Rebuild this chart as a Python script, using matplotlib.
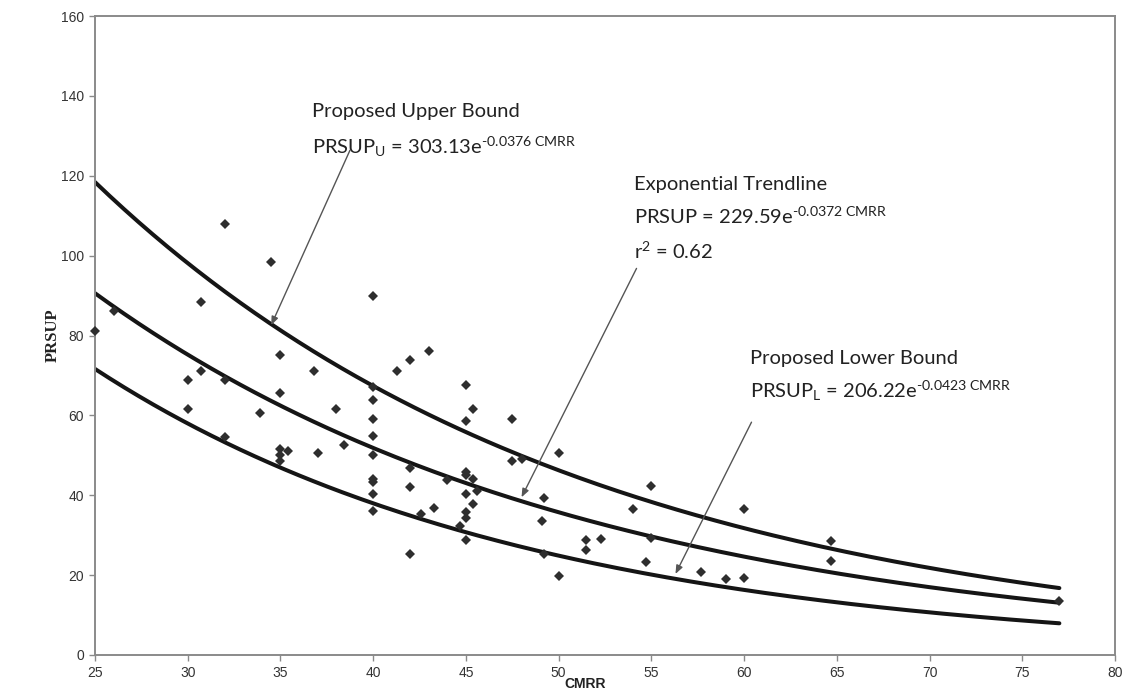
import numpy as np
import matplotlib
matplotlib.use('Agg')
import matplotlib.pyplot as plt

plt.rcParams['mathtext.fontset'] = 'custom'
plt.rcParams['mathtext.rm'] = 'Lato'
plt.rcParams['mathtext.it'] = 'Lato:italic'
plt.rcParams['mathtext.bf'] = 'Lato:bold'

# measured points (CMRR, PRSUP)
cmrr = [25, 26, 30, 30, 30.7, 30.7, 32, 32, 32, 33.9, 34.5, 35, 35, 35, 35.4, 35, 35,
        36.8, 37, 38, 38.4, 40, 40, 40, 40, 40, 40, 40, 40, 40, 40, 41.3, 42, 42, 42,
        42, 42.6, 43, 43.3, 44, 44.7, 45, 45, 45.4, 45, 45, 45.4, 45.6, 45, 45.4, 45,
        45, 45, 47.5, 47.5, 48, 49.2, 49.1, 49.2, 50, 50, 51.5, 51.5, 52.3, 54, 54.7,
        55, 55, 57.7, 59, 60, 60, 64.7, 64.7, 77]
prsup = [81.1, 86.1, 68.8, 61.5, 71, 88.5, 107.9, 68.8, 54.6, 60.5, 98.4, 75, 65.7, 51.7,
         51, 50.2, 48.5, 71, 50.5, 61.5, 52.6, 90, 67, 63.8, 59.1, 54.9, 50.2, 44, 43.3,
         40.4, 36, 71, 73.9, 46.9, 42, 25.2, 35.2, 76, 36.7, 43.9, 32.3, 67.5, 58.6, 61.6,
         45.9, 45.1, 44, 41.1, 40.2, 37.8, 35.8, 34.4, 28.7, 59.1, 48.6, 49.1, 39.4, 33.5,
         25.2, 50.5, 19.7, 28.9, 26.2, 29.1, 36.5, 23.4, 42.3, 29.4, 20.7, 19, 36.5, 19.2,
         28.6, 23.6, 13.6]

# curve equations printed on the chart: PRSUP = a * exp(b * CMRR)
curve_a = [303.13, 229.59, 206.22]
curve_b = [-0.0376, -0.0372, -0.0423]
curve_range = [25, 77]

xticks = list(range(25, 81, 5))
yticks = list(range(0, 161, 20))

lab_font = ['Liberation Sans', 'DejaVu Sans']
txt_font = ['Lato', 'DejaVu Sans']

fig = plt.figure(figsize=(11.22, 6.91), dpi=100)
ax = fig.add_axes([95 / 1122, 1 - 655 / 691, 1020 / 1122, 639 / 691])

xx = np.linspace(curve_range[0], curve_range[1], 200)
for a, b in zip(curve_a, curve_b):
    ax.plot(xx, a * np.exp(b * xx), color='#151515', lw=2.9, solid_capstyle='round', zorder=2)

ax.plot(cmrr, prsup, 'D', color='#2e2e2e', ms=5.6, mew=0, zorder=3, clip_on=False)

ax.set_xlim(25, 80)
ax.set_ylim(0, 160)
ax.set_xticks(xticks)
ax.set_yticks(yticks)
for s in ax.spines.values():
    s.set_color('#8a8a8a')
    s.set_linewidth(1.4)
ax.tick_params(direction='out', length=4, width=1, color='#8a8a8a', labelcolor='#333333',
               labelsize=10, pad=4)
for lab in ax.get_xticklabels() + ax.get_yticklabels():
    lab.set_family(lab_font)

ax.set_xlabel('CMRR', fontsize=10, fontweight='bold', family=['Liberation Sans', 'DejaVu Sans'],
              color='#222222')
ax.xaxis.set_label_coords(0.481, -0.035)
ax.set_ylabel('PRSUP', fontsize=12, fontweight='bold', family=['Liberation Serif', 'DejaVu Serif'],
              color='#222222')
ax.yaxis.set_label_coords(-0.034, 0.5)

fs = 14.5
tc = '#222222'
ax.text(36.7, 134.6, 'Proposed Upper Bound', fontsize=fs, color=tc, family=txt_font, va='baseline')
ax.text(36.7, 125.6, r'PRSUP$_{\mathregular{U}}$ = 303.13e$^{\text{-0.0376 CMRR}}$',
        fontsize=fs, color=tc, family=txt_font, va='baseline')
ax.text(54.06, 116.4, 'Exponential Trendline', fontsize=fs, color=tc, family=txt_font, va='baseline')
ax.text(54.06, 107.9, r'PRSUP = 229.59e$^{\text{-0.0372 CMRR}}$',
        fontsize=fs, color=tc, family=txt_font, va='baseline')
ax.text(54.06, 99.3, r'r$^{\mathregular{2}}$ = 0.62', fontsize=fs, color=tc, family=txt_font, va='baseline')
ax.text(60.3, 72.8, 'Proposed Lower Bound', fontsize=fs, color=tc, family=txt_font, va='baseline')
ax.text(60.3, 64.3, r'PRSUP$_{\mathregular{L}}$ = 206.22e$^{\text{-0.0423 CMRR}}$',
        fontsize=fs, color=tc, family=txt_font, va='baseline')

aprops = dict(arrowstyle='-|>,head_length=0.5,head_width=0.2', color='#555555', lw=1.0,
              shrinkA=0, shrinkB=0)
ax.annotate('', xy=(34.5, 82.6), xytext=(38.75, 126.4), arrowprops=aprops)
ax.annotate('', xy=(48.0, 39.5), xytext=(54.2, 96.8), arrowprops=aprops)
ax.annotate('', xy=(56.3, 20.3), xytext=(60.4, 58.3), arrowprops=aprops)

plt.savefig('out.png', dpi=100)
